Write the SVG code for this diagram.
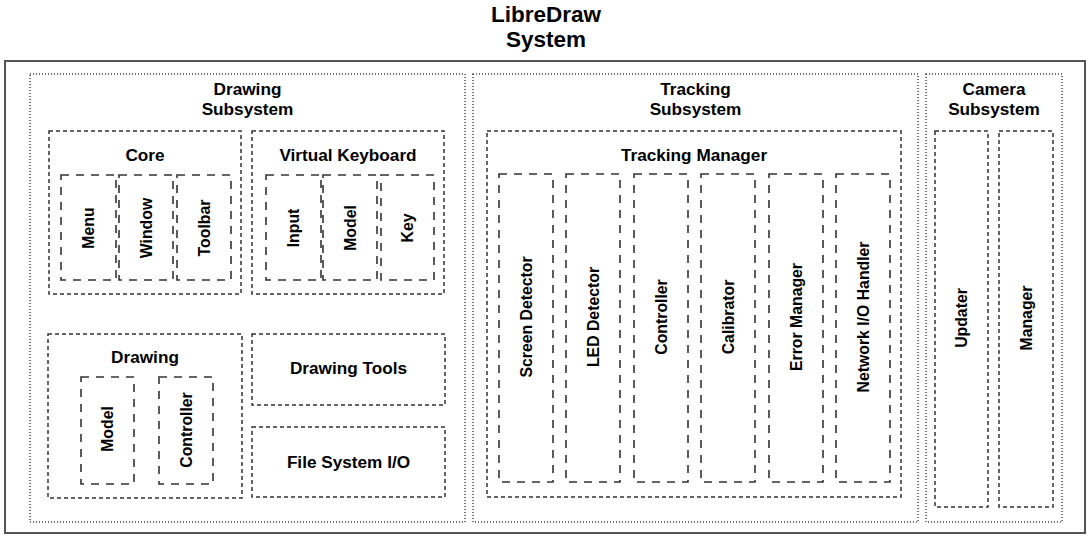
<svg xmlns="http://www.w3.org/2000/svg" width="1092" height="540" viewBox="0 0 1092 540">
<style>
text{font-family:"Liberation Sans",Arial,sans-serif;font-weight:bold;fill:#000;text-anchor:middle}
.title{font-size:22.5px}
.hdr{font-size:17.2px}
.lbl{font-size:15.8px;dominant-baseline:central}
rect{fill:none}
.outer{stroke:#555;stroke-width:2}
.dot{stroke:#444;stroke-width:1.5;stroke-dasharray:1 2}
.mid{stroke:#333;stroke-width:1.5;stroke-dasharray:4 3}
.inner{stroke:#333;stroke-width:1.6;stroke-dasharray:8 7}
</style>
<g id="title">
<text class="title" x="546" y="22">LibreDraw</text>
<text class="title" x="546" y="47">System</text>
</g>
<g id="system"><rect class="outer" x="5" y="61" width="1080" height="472"/></g>

<g id="drawing-subsystem">
<rect class="dot" x="30" y="74" width="435" height="448"/>
<text class="hdr" x="247.5" y="95">Drawing</text>
<text class="hdr" x="247.5" y="115">Subsystem</text>
</g>
<g id="core">
<rect class="mid" x="49" y="131" width="192" height="163"/>
<text class="hdr" x="145" y="161">Core</text>
</g>
<g id="core-menu"><rect class="inner" x="61" y="175" width="55" height="105"/><text class="lbl" transform="translate(88.5,228) rotate(-90)">Menu</text></g>
<g id="core-window"><rect class="inner" x="119" y="175" width="54" height="105"/><text class="lbl" transform="translate(146,228) rotate(-90)">Window</text></g>
<g id="core-toolbar"><rect class="inner" x="177" y="175" width="54" height="105"/><text class="lbl" transform="translate(204,228) rotate(-90)">Toolbar</text></g>

<g id="virtual-keyboard">
<rect class="mid" x="252" y="131" width="192" height="163"/>
<text class="hdr" x="348" y="161">Virtual Keyboard</text>
</g>
<g id="vk-input"><rect class="inner" x="266" y="175" width="55" height="105"/><text class="lbl" transform="translate(293.5,228) rotate(-90)">Input</text></g>
<g id="vk-model"><rect class="inner" x="323" y="175" width="54" height="105"/><text class="lbl" transform="translate(350,228) rotate(-90)">Model</text></g>
<g id="vk-key"><rect class="inner" x="381" y="175" width="53" height="105"/><text class="lbl" transform="translate(407.5,228) rotate(-90)">Key</text></g>

<g id="drawing">
<rect class="mid" x="48" y="334" width="194" height="164"/>
<text class="hdr" x="145" y="363">Drawing</text>
</g>
<g id="drawing-model"><rect class="inner" x="81" y="377" width="53" height="107"/><text class="lbl" transform="translate(107.5,429) rotate(-90)">Model</text></g>
<g id="drawing-controller"><rect class="inner" x="159" y="377" width="54" height="107"/><text class="lbl" transform="translate(186,430) rotate(-90)">Controller</text></g>

<g id="drawing-tools">
<rect class="mid" x="252" y="334" width="193" height="71"/>
<text class="hdr" x="348.5" y="374">Drawing Tools</text>
</g>
<g id="file-system-io">
<rect class="mid" x="252" y="427" width="193" height="70"/>
<text class="hdr" x="348.5" y="468">File System I/O</text>
</g>

<g id="tracking-subsystem">
<rect class="dot" x="473" y="74" width="445" height="448"/>
<text class="hdr" x="695.5" y="95">Tracking</text>
<text class="hdr" x="695.5" y="115">Subsystem</text>
</g>
<g id="tracking-manager">
<rect class="mid" x="487" y="131" width="414" height="366"/>
<text class="hdr" x="694" y="161">Tracking Manager</text>
</g>
<g id="tm-screen-detector"><rect class="inner" x="499" y="174" width="54" height="308"/><text class="lbl" transform="translate(526,317) rotate(-90)">Screen Detector</text></g>
<g id="tm-led-detector"><rect class="inner" x="566" y="174" width="54" height="308"/><text class="lbl" transform="translate(593,317) rotate(-90)">LED Detector</text></g>
<g id="tm-controller"><rect class="inner" x="634" y="174" width="54" height="308"/><text class="lbl" transform="translate(661,317) rotate(-90)">Controller</text></g>
<g id="tm-calibrator"><rect class="inner" x="701" y="174" width="54" height="308"/><text class="lbl" transform="translate(728,317) rotate(-90)">Calibrator</text></g>
<g id="tm-error-manager"><rect class="inner" x="769" y="174" width="54" height="308"/><text class="lbl" transform="translate(796,317) rotate(-90)">Error Manager</text></g>
<g id="tm-network-io"><rect class="inner" x="836" y="174" width="54" height="308"/><text class="lbl" transform="translate(863,317) rotate(-90)">Network I/O Handler</text></g>

<g id="camera-subsystem">
<rect class="dot" x="926" y="74" width="136" height="448"/>
<text class="hdr" x="994" y="95">Camera</text>
<text class="hdr" x="994" y="115">Subsystem</text>
</g>
<g id="camera-updater"><rect class="mid" x="935" y="131" width="53" height="376"/><text class="lbl" transform="translate(961.5,318) rotate(-90)">Updater</text></g>
<g id="camera-manager"><rect class="mid" x="999" y="131" width="54" height="376"/><text class="lbl" transform="translate(1026,318) rotate(-90)">Manager</text></g>

<g id="connectors"></g>
</svg>
